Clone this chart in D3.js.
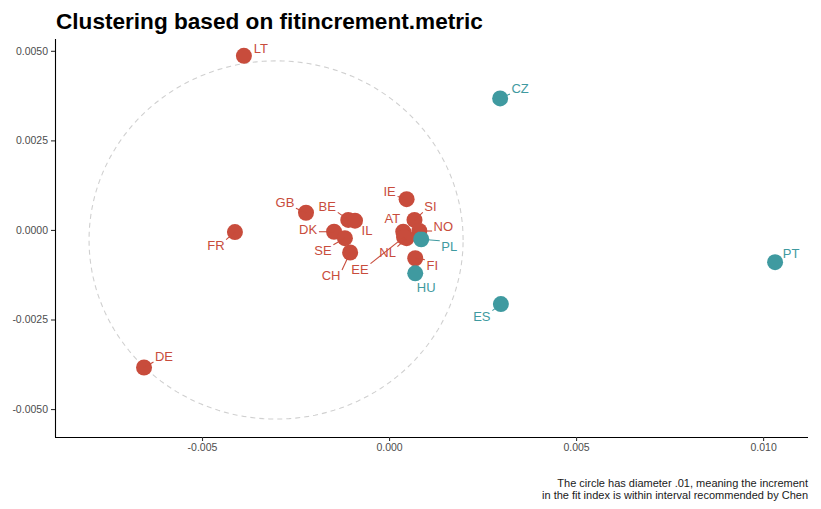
<!DOCTYPE html>
<html>
<head>
<meta charset="utf-8">
<script src="https://cdn.jsdelivr.net/npm/d3@7"></script>
<style>
  html, body { margin: 0; padding: 0; background: #ffffff; }
  svg { display: block; font-family: "Liberation Sans", Arial, Helvetica, sans-serif; }
</style>
</head>
<body>
<svg id="chart" width="821" height="509"></svg>
<script>
// Country codes, two-dimensional fit-increment coordinates and cluster membership
const countries = ["LT", "CZ", "PT", "ES", "DE", "FR", "GB", "BE", "IL", "DK", "SE",
                   "CH", "IE", "SI", "AT", "NO", "NL", "EE", "PL", "FI", "HU"];
const xValues = [-0.00388, 0.00297, 0.01032, 0.00299, -0.00655, -0.00412, -0.00222, -0.00109,
                 -0.00091, -0.00147, -0.00118, -0.00104, 0.00047, 0.00068, 0.00038, 0.00081,
                 0.00047, 0.00040, 0.00086, 0.00070, 0.00070];
const yValues = [0.00486, 0.00367, -0.00090, -0.00207, -0.00384, -0.00006, 0.00048, 0.00028,
                 0.00026, -0.00005, -0.00023, -0.00063, 0.00086, 0.00028, -0.00005, -0.00003,
                 -0.00023, -0.00020, -0.00026, -0.00079, -0.00121];
const clusters = [1, 2, 2, 2, 1, 1, 1, 1, 1, 1, 1, 1, 1, 1, 1, 1, 1, 1, 2, 1, 2];

// Reference circle (diameter .01)
const circleCenter = [-0.00302, -0.00028];
const circleDiameter = 0.01;

const xTicks = [-0.005, 0.000, 0.005, 0.010];
const yTicks = [-0.005, -0.0025, 0.0000, 0.0025, 0.0050];

const titleText = "Clustering based on fitincrement.metric";
const captionLines = ["The circle has diameter .01, meaning the increment",
                      "in the fit index is within interval recommended by Chen"];

const clusterColors = { 1: "#c84c3c", 2: "#3f9aa0" };

// Repelled label placement (pixel offsets of the label centre from its point)
const labelOffsets = {
  LT: [17, -7], CZ: [20, -10], PT: [16, -9], ES: [-19, 12], DE: [20, -11],
  FR: [-19, 13], GB: [-21, -10], BE: [-21, -13], IL: [12, 10], DK: [-26, -2],
  SE: [-22, 12], CH: [-19, 23], IE: [-17, -8], SI: [16, -13], AT: [-11, -13],
  NO: [24, -5], NL: [-19, 14], EE: [-44, 32], PL: [28, 7], FI: [17, 7], HU: [11, 14]
};

const data = countries.map((c, i) => ({
  code: c, x: xValues[i], y: yValues[i], cluster: clusters[i]
}));

const svg = d3.select("#chart");
const panel = { left: 55, right: 808, top: 39, bottom: 437 };

const x = d3.scaleLinear().domain([-0.00893, 0.0112]).range([panel.left, panel.right]);
const y = d3.scaleLinear().domain([-0.00578, 0.00533]).range([panel.bottom, panel.top]);

// Plain hyphen for negative tick values
const fmt = p => d => d3.format(p)(d).replace("\u2212", "-");

// Title
svg.append("text")
  .attr("x", 56).attr("y", 29)
  .attr("font-size", 22.6).attr("font-weight", "bold").attr("fill", "#000")
  .text(titleText);

// Dashed reference circle, drawn in data units through both scales
const circlePts = d3.range(0, 361, 2).map(a => {
  const t = a * Math.PI / 180;
  return [x(circleCenter[0] + circleDiameter / 2 * Math.cos(t)),
          y(circleCenter[1] + circleDiameter / 2 * Math.sin(t))];
});
svg.append("path")
  .attr("d", d3.line()(circlePts) + "Z")
  .attr("fill", "none")
  .attr("stroke", "#d0d0d0")
  .attr("stroke-width", 1.1)
  .attr("stroke-dasharray", "5,4");

// Axes
const xAxis = d3.axisBottom(x).tickValues(xTicks).tickSize(4).tickPadding(3)
  .tickFormat(fmt(".3f"));
const yAxis = d3.axisLeft(y).tickValues(yTicks).tickSize(4).tickPadding(3)
  .tickFormat(fmt(".4f"));

const gx = svg.append("g").attr("transform", `translate(0,${panel.bottom})`).call(xAxis);
const gy = svg.append("g").attr("transform", `translate(${panel.left},0)`).call(yAxis);
gx.select(".domain").attr("d", `M${panel.left},0.5H${panel.right}`);
gy.select(".domain").attr("d", `M0.5,${panel.top}V${panel.bottom}`);
[gx, gy].forEach(g => {
  g.select(".domain").attr("stroke", "#000").attr("stroke-width", 1.1);
  g.selectAll(".tick line").attr("stroke", "#333").attr("stroke-width", 1.1);
  g.selectAll(".tick text").attr("fill", "#4d4d4d").attr("font-size", 10.5)
    .attr("font-family", "Liberation Sans, Arial, sans-serif");
});

// Labels with connector segments
const labelFont = 13;
const labelG = svg.append("g");
const segG = labelG.append("g");
const textG = labelG.append("g");

data.forEach(d => {
  const px = x(d.x), py = y(d.y);
  const off = labelOffsets[d.code];
  const lx = px + off[0], ly = py + off[1];
  const t = textG.append("text")
    .attr("x", lx).attr("y", ly)
    .attr("text-anchor", "middle")
    .attr("dominant-baseline", "central")
    .attr("font-size", labelFont)
    .attr("fill", clusterColors[d.cluster])
    .text(d.code);
  const bb = t.node().getBBox();
  const pad = 1.5;
  const bx0 = bb.x - pad, bx1 = bb.x + bb.width + pad;
  const by0 = ly - labelFont * 0.42, by1 = ly + labelFont * 0.42;
  const ex = Math.max(bx0, Math.min(px, bx1));
  const ey = Math.max(by0, Math.min(py, by1));
  const dist = Math.hypot(ex - px, ey - py);
  if (dist > 9) {
    segG.append("line")
      .attr("x1", px).attr("y1", py).attr("x2", ex).attr("y2", ey)
      .attr("stroke", clusterColors[d.cluster]).attr("stroke-width", 1.1);
  }
});

// Points
svg.append("g").selectAll("circle")
  .data(data)
  .join("circle")
  .attr("cx", d => x(d.x))
  .attr("cy", d => y(d.y))
  .attr("r", 8)
  .attr("fill", d => clusterColors[d.cluster]);

labelG.raise();
textG.raise();

// Caption
svg.append("text")
  .attr("text-anchor", "end")
  .attr("font-size", 11)
  .attr("fill", "#1a1a1a")
  .selectAll("tspan")
  .data(captionLines)
  .join("tspan")
  .attr("x", 808)
  .attr("y", (d, i) => 487 + i * 11.5)
  .text(d => d);
</script>
</body>
</html>
